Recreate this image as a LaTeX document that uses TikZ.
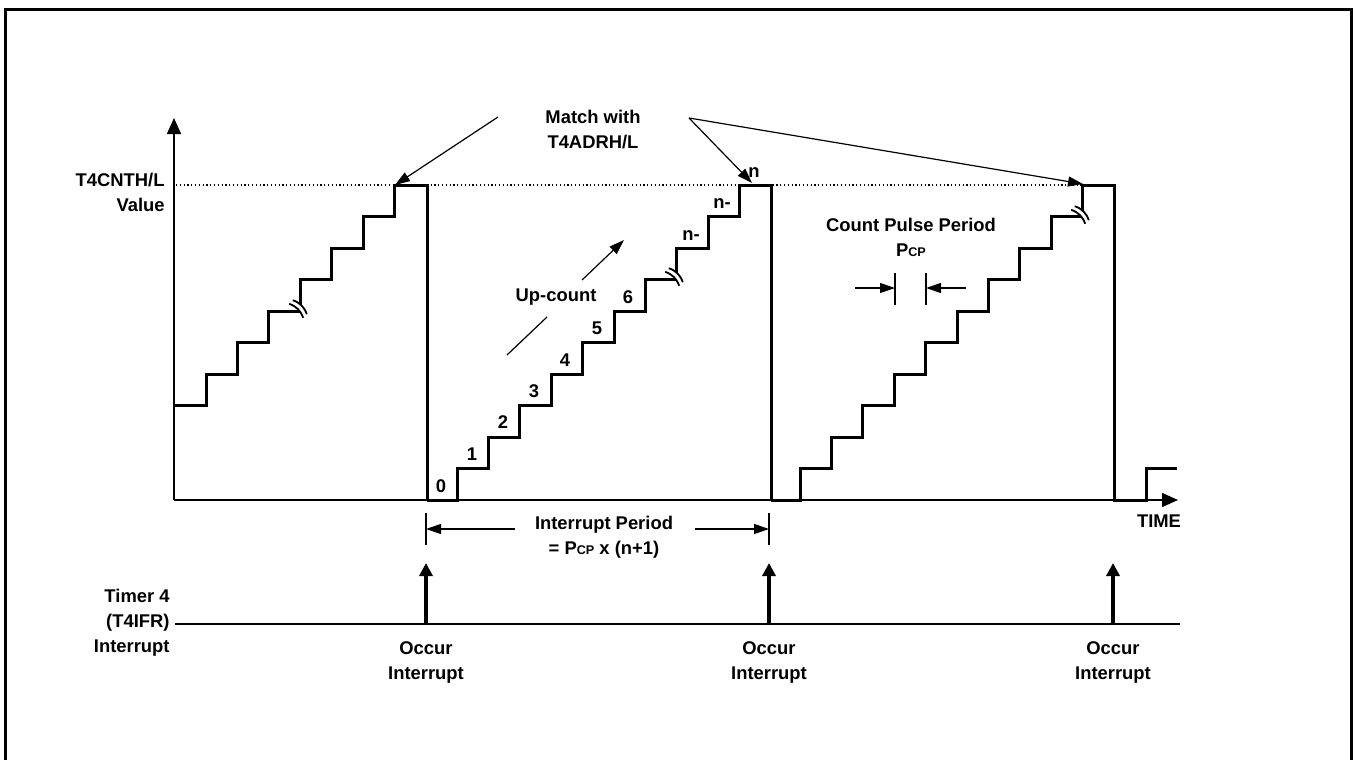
\documentclass[tikz,border=0pt]{standalone}
\usepackage{fontspec}
\setmainfont{Liberation Sans}
\usetikzlibrary{arrows.meta,calc}
\newcommand{\PcpSub}{P{\fontsize{6.3pt}{7pt}\selectfont CP}}
\begin{document}
\begin{tikzpicture}[x=0.5pt,y=-0.5pt,
  lbl/.style={font=\fontsize{9.2pt}{12.5pt}\selectfont\bfseries, inner sep=0pt, align=center},
  stair/.style={line width=1.5pt, line join=miter},
  axisline/.style={line width=0.75pt, -{Triangle[length=8pt,width=7pt]}},
  thinline/.style={line width=0.6pt},
  pointer/.style={line width=0.6pt, -{Triangle[length=7.5pt,width=5pt]}},
  dimarrow/.style={line width=0.6pt, -{Triangle[length=7.5pt,width=5pt]}},
  intarrow/.style={line width=1.6pt, -{Triangle[length=6.5pt,width=6.5pt]}},
  dotline/.style={line width=0.6pt, dash pattern=on 0.6pt off 1.3pt},
  brk/.pic={
    \fill[white] (-5.2,-8.8) to[bend left=25] (8.8,5.2) -- (5.2,8.8) to[bend right=25] (-8.8,-5.2) -- cycle;
    \draw[line width=0.9pt] (-5.2,-8.8) to[bend left=25] (8.8,5.2);
    \draw[line width=0.9pt] (-8.8,-5.2) to[bend left=25] (5.2,8.8);
  }
]
\useasboundingbox (0,0) rectangle (1355,760);
% frame
\draw[line width=1.5pt] (5,762) -- (5,9) -- (1351,9) -- (1351,762);

% axes
\coordinate (O) at (174,500);
\coordinate (Ytop) at (174,118);
\coordinate (Xend) at (1178,500);
\draw[axisline] (O) -- (Ytop);
\draw[axisline] (O) -- (Xend);

% threshold dotted line
\coordinate (D1) at (176,185);
\coordinate (D2) at (1085,185);
\draw[dotline] (D1) -- (D2);

% staircase 1
\draw[stair] (175,405.5) -- (206,405.5)
  \foreach \i in {1,...,7} { -- ++(0,-31.5) -- ++(31.4,0) } -- (427,185) -- (427,500);
% staircase 2
\draw[stair] (427,500) -- (457,500)
  \foreach \i in {1,...,10} { -- ++(0,-31.5) -- ++(31.4,0) } -- (771,185) -- (771,500);
% staircase 3
\draw[stair] (771,500) -- (800,500)
  \foreach \i in {1,...,10} { -- ++(0,-31.5) -- ++(31.4,0) } -- (1114,185) -- (1114,500)
  -- (1146,500) -- (1146,468.5) -- (1177,468.5);

% break marks
\pic at (298,309) {brk};
\pic at (674,277) {brk};
\pic at (1080,215) {brk};

% labels on axes
\node[lbl, align=right, anchor=east] (ylab) at (165,192) {T4CNTH/L\\Value};
\node[lbl] (time) at (1159,521) {TIME};

% match label and pointers
\node[lbl] (match) at (593,129.5) {Match with\\T4ADRH/L};
\coordinate (mL) at (498,117);
\coordinate (mR) at (689,118);
\coordinate (t1) at (395,185);
\coordinate (t2) at (752,183);
\coordinate (t3) at (1083,184);
\draw[pointer] (mL) -- (t1);
\draw[pointer] (mR) -- (t2);
\draw[pointer] (mR) -- (t3);

% step numbers
\node[lbl] (c0) at (441,486) {0};
\node[lbl] (c1) at (472,454) {1};
\node[lbl] (c2) at (503,422) {2};
\node[lbl] (c3) at (534,391) {3};
\node[lbl] (c4) at (565,360) {4};
\node[lbl] (c5) at (597,328) {5};
\node[lbl] (c6) at (628,297) {6};
\node[lbl] (cn2) at (691,236) {n-};
\node[lbl] (cn1) at (722,204) {n-};
\node[lbl] (cn) at (754,173) {n};

% up-count
\node[lbl] (up) at (556,297) {Up-count};
\coordinate (u1) at (507,355);
\coordinate (u2) at (547,317);
\coordinate (u3) at (582,280);
\coordinate (u4) at (624,240);
\draw[thinline] (u1) -- (u2);
\draw[pointer] (u3) -- (u4);

% count pulse period
\node[lbl] (cpp) at (911,237) {Count Pulse Period\\\PcpSub};
\coordinate (pa) at (895,273); \coordinate (pb) at (895,305);
\coordinate (pc) at (926,273); \coordinate (pd) at (926,305);
\draw[thinline] (pa) -- (pb);
\draw[thinline] (pc) -- (pd);
\coordinate (pl) at (855,288); \coordinate (plt) at (895,288);
\coordinate (pr) at (966,288); \coordinate (prt) at (926,288);
\draw[dimarrow] (pl) -- (plt);
\draw[dimarrow] (pr) -- (prt);

% interrupt period
\node[lbl] (ip) at (604,537.5) {Interrupt Period\\= \PcpSub\ x (n+1)};
\coordinate (ia) at (426,513); \coordinate (ib) at (426,545);
\coordinate (ic) at (769,513); \coordinate (id) at (769,545);
\draw[thinline] (ia) -- (ib);
\draw[thinline] (ic) -- (id);
\coordinate (il) at (515,529); \coordinate (ilt) at (426,529);
\coordinate (ir) at (695,529); \coordinate (irt) at (769,529);
\draw[dimarrow] (il) -- (ilt);
\draw[dimarrow] (ir) -- (irt);

% interrupt line
\node[lbl, align=right, anchor=east] (tlab) at (170,623) {Timer 4\\(T4IFR)\\Interrupt};
\coordinate (L1) at (175,624);
\coordinate (L2) at (1180,624);
\draw[thinline] (L1) -- (L2);
\foreach \x/\n in {426/a,769/b,1113/c} {
  \coordinate (ib\n) at (\x,624);
  \coordinate (it\n) at (\x,563);
  \draw[intarrow] (ib\n) -- (it\n);
  \node[lbl] (occ\n) at (\x,662) {Occur\\Interrupt};
}
\end{tikzpicture}
\end{document}
